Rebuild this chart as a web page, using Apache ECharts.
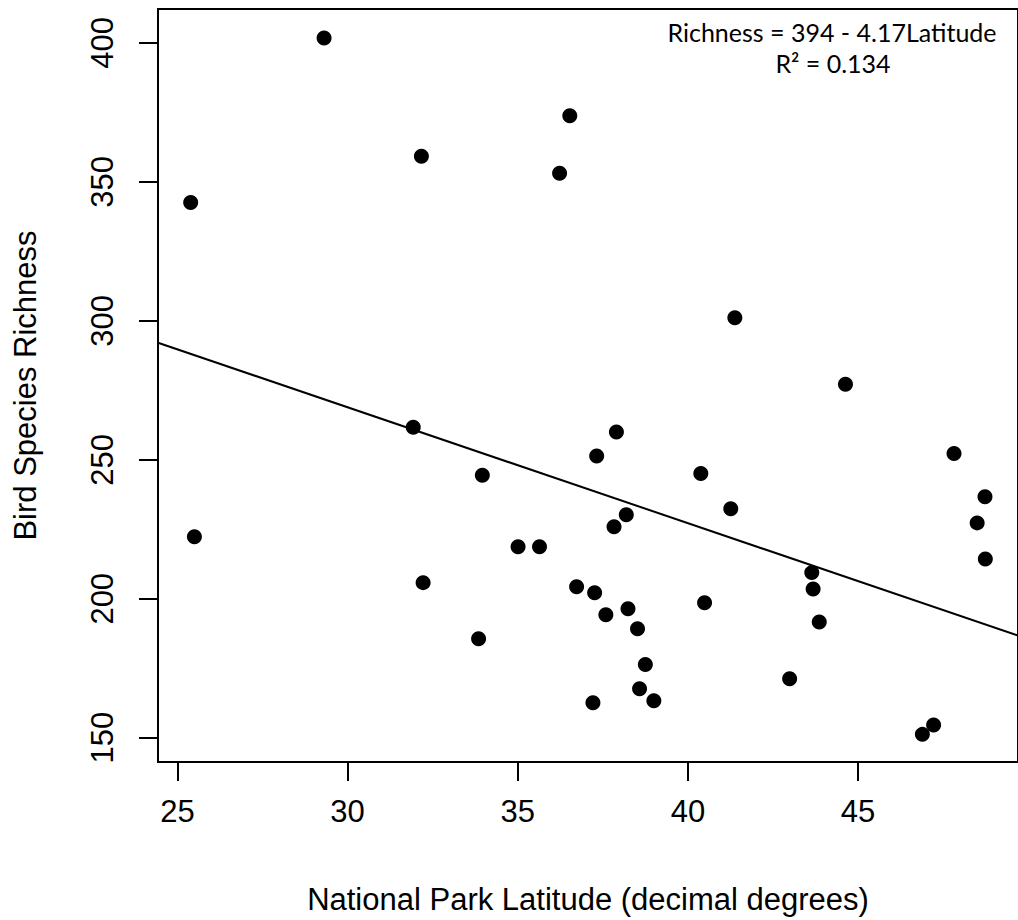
<!DOCTYPE html>
<html><head><meta charset="utf-8">
<script src="https://cdn.jsdelivr.net/npm/echarts@6/dist/echarts.min.js"></script>
<style>html,body{margin:0;padding:0;background:#fff}#c{width:1018px;height:920px}</style>
</head><body><div id="c"></div>
<script>
// Data
const latitude = [25.39, 25.50, 29.31, 32.17, 36.53, 36.23, 31.93, 37.90, 37.32, 33.96,
                  38.19, 37.83, 35.01, 35.64, 32.22, 36.73, 37.26, 38.24, 37.59, 38.52,
                  33.85, 38.75, 38.58, 39.00, 37.21, 41.38, 44.63, 47.82, 40.38, 41.26,
                  48.73, 48.50, 43.64, 43.68, 40.49, 43.86, 42.99, 48.74, 46.89, 47.22];
const richness = [342.6, 222.3, 401.8, 359.2, 373.8, 353.1, 261.7, 260.0, 251.4, 244.4,
                  230.2, 225.9, 218.7, 218.7, 205.8, 204.3, 202.2, 196.4, 194.2, 189.2,
                  185.6, 176.3, 167.6, 163.3, 162.6, 301.1, 277.2, 252.3, 245.1, 232.4,
                  236.7, 227.3, 209.4, 203.5, 198.6, 191.6, 171.2, 214.3, 151.2, 154.6];
const xTicks = [25, 30, 35, 40, 45];
const yTicks = [150, 200, 250, 300, 350, 400];
const xRange = [24.43, 49.7];
const yRange = [141.26, 412.2];
const fitIntercept = 394;
const fitSlope = -4.17;
const fitLabel = 'Richness = 394 - 4.17Latitude';
const r2Label = 'R\u00B2 = 0.134';
const xTitle = 'National Park Latitude (decimal degrees)';
const yTitle = 'Bird Species Richness';

const points = latitude.map((x, i) => [x, richness[i]]);
const fitLine = xRange.map(x => [x, fitIntercept + fitSlope * x]);

const chart = echarts.init(document.getElementById('c'), null, {renderer: 'svg'});
const axisFont = {fontFamily: '"Liberation Sans", Arial, sans-serif', fontSize: 31, color: '#000'};
const noteFont = {fontFamily: 'Lato, "Open Sans", sans-serif', fontSize: 25, fill: '#000', textAlign: 'center', textVerticalAlign: 'middle'};
chart.setOption({
  animation: false,
  backgroundColor: '#fff',
  grid: {left: 158, top: 9, width: 871, height: 753, show: true, borderColor: '#000', borderWidth: 2, backgroundColor: 'transparent'},
  xAxis: {
    type: 'value', min: xRange[0], max: xRange[1],
    name: xTitle, nameLocation: 'middle', nameGap: 122,
    nameTextStyle: axisFont,
    axisLine: {show: true, onZero: false, lineStyle: {color: '#000', width: 2}},
    axisTick: {show: true, length: 19, lineStyle: {color: '#000', width: 2}, customValues: xTicks},
    axisLabel: Object.assign({margin: 34, customValues: xTicks}, axisFont),
    splitLine: {show: false}
  },
  yAxis: {
    type: 'value', min: yRange[0], max: yRange[1],
    name: yTitle, nameLocation: 'middle', nameGap: 117, nameRotate: 90,
    nameTextStyle: axisFont,
    axisLine: {show: true, onZero: false, lineStyle: {color: '#000', width: 2}},
    axisTick: {show: true, length: 19, lineStyle: {color: '#000', width: 2}, customValues: yTicks},
    axisLabel: Object.assign({margin: 40, rotate: 90, customValues: yTicks}, axisFont),
    splitLine: {show: false}
  },
  graphic: [
    {type: 'text', x: 832, y: 32, style: Object.assign({text: fitLabel}, noteFont)},
    {type: 'text', x: 833, y: 63, style: Object.assign({text: r2Label}, noteFont)}
  ],
  series: [
    {type: 'scatter', data: points, symbol: 'circle', symbolSize: 15, itemStyle: {color: '#000', opacity: 1}, z: 3},
    {type: 'line', data: fitLine, showSymbol: false, symbol: 'none', lineStyle: {color: '#000', width: 2}, clip: true, z: 2}
  ]
});
</script>
</body></html>
